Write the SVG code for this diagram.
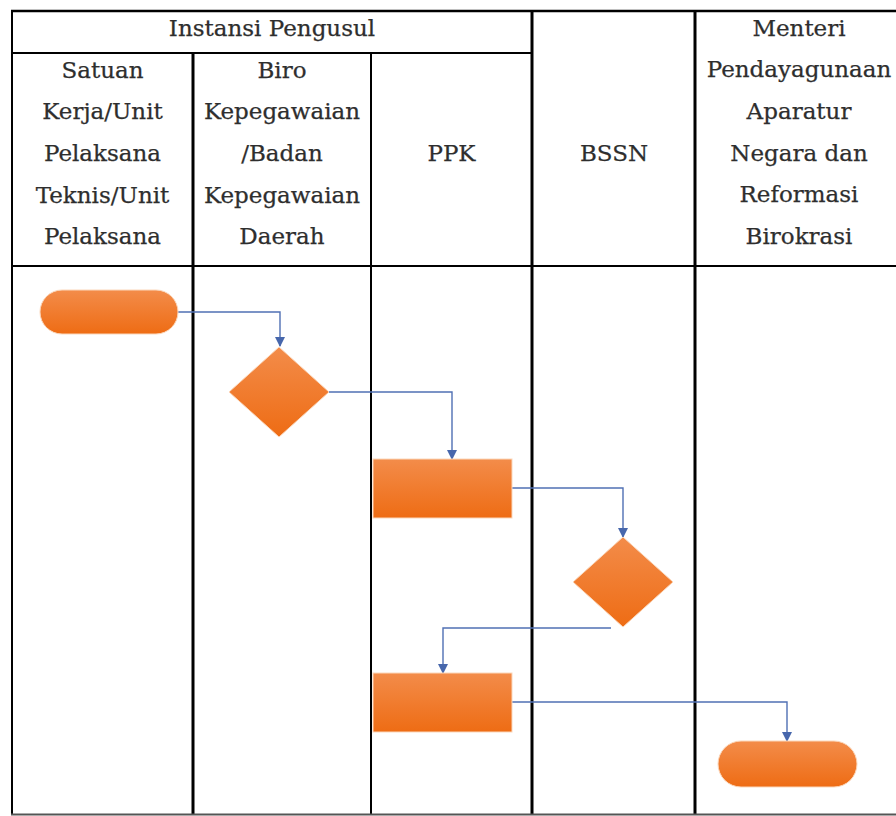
<svg xmlns="http://www.w3.org/2000/svg" width="896" height="816" viewBox="0 0 896 816">
<defs>
<linearGradient id="og" x1="0" y1="0" x2="0" y2="1">
<stop offset="0" stop-color="#f38c4a"/>
<stop offset="1" stop-color="#ee6c14"/>
</linearGradient>
<marker id="ah" viewBox="0 0 10 10" refX="9" refY="5" markerWidth="10" markerHeight="10" markerUnits="userSpaceOnUse" orient="auto">
<path d="M0,0 L10,5 L0,10 z" fill="#4767ac"/>
</marker>
</defs>
<style>
.t{font-family:"DejaVu Serif","Liberation Serif",serif;font-size:23px;fill:#2e2e2e;stroke:#2e2e2e;stroke-width:0.25;text-anchor:middle}
.grid{stroke:#000;fill:none}
.shape{fill:url(#og);stroke:#fbd7bb;stroke-width:1}
.conn{stroke:#5070b4;stroke-width:1.4;fill:none;marker-end:url(#ah)}
</style>
<rect width="896" height="816" fill="#fff"/>
<g id="table">
<line class="grid" x1="11" y1="11" x2="896" y2="11" stroke-width="2.5"/>
<line class="grid" x1="12" y1="10" x2="12" y2="815" stroke-width="2"/>
<line class="grid" x1="12" y1="53" x2="532" y2="53" stroke-width="2"/>
<line class="grid" x1="12" y1="266" x2="896" y2="266" stroke-width="2"/>
<line class="grid" x1="193" y1="53" x2="193" y2="815" stroke-width="3"/>
<line class="grid" x1="371" y1="53" x2="371" y2="815" stroke-width="2"/>
<line class="grid" x1="532" y1="11" x2="532" y2="815" stroke-width="3"/>
<line class="grid" x1="695" y1="11" x2="695" y2="815" stroke-width="3"/>
<line x1="11" y1="814.5" x2="896" y2="814.5" stroke="#555" stroke-width="2"/>
</g>
<g id="header-instansi"><text class="t" x="272" y="36">Instansi Pengusul</text></g>
<g id="lane-satuan">
<text class="t" x="102.5" y="78">Satuan</text>
<text class="t" x="102.5" y="119">Kerja/Unit</text>
<text class="t" x="102.5" y="161">Pelaksana</text>
<text class="t" x="102.5" y="203">Teknis/Unit</text>
<text class="t" x="102.5" y="244">Pelaksana</text>
</g>
<g id="lane-biro">
<text class="t" x="282" y="78">Biro</text>
<text class="t" x="282" y="119">Kepegawaian</text>
<text class="t" x="282" y="161">/Badan</text>
<text class="t" x="282" y="203">Kepegawaian</text>
<text class="t" x="282" y="244">Daerah</text>
</g>
<g id="lane-ppk"><text class="t" x="451.5" y="161">PPK</text></g>
<g id="lane-bssn"><text class="t" x="614" y="161">BSSN</text></g>
<g id="lane-menteri">
<text class="t" x="799" y="36">Menteri</text>
<text class="t" x="799" y="77">Pendayagunaan</text>
<text class="t" x="799" y="119">Aparatur</text>
<text class="t" x="799" y="161">Negara dan</text>
<text class="t" x="799" y="202">Reformasi</text>
<text class="t" x="799" y="244">Birokrasi</text>
</g>
<g id="connectors">
<path class="conn" d="M178,312 H280 V346"/>
<path class="conn" d="M329,392 H452 V459"/>
<path class="conn" d="M512,488 H623 V537"/>
<path class="conn" d="M611,628 H443 V673"/>
<path class="conn" d="M512,702 H787 V741"/>
</g>
<g id="start"><rect class="shape" x="40" y="290" width="138" height="44" rx="22"/></g>
<g id="decision-biro"><polygon class="shape" points="279,347 329,392 279,437 229,392"/></g>
<g id="process-ppk-1"><rect class="shape" x="373" y="459" width="139" height="59"/></g>
<g id="decision-bssn"><polygon class="shape" points="623,537 673,582 623,627 573,582"/></g>
<g id="process-ppk-2"><rect class="shape" x="373" y="673" width="139" height="59"/></g>
<g id="end"><rect class="shape" x="718" y="741" width="139" height="46" rx="23"/></g>
</svg>
